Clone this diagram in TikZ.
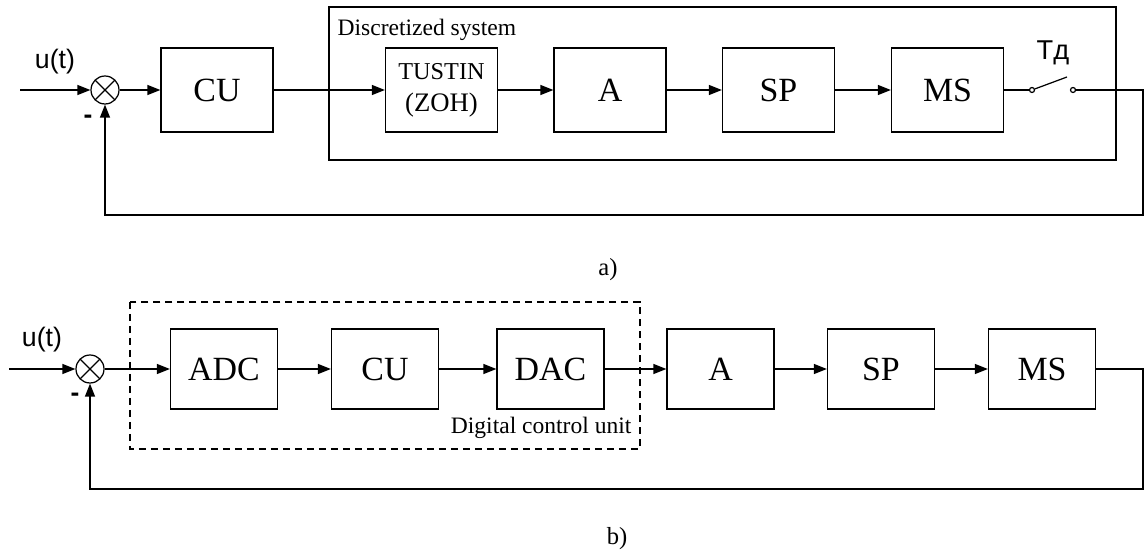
\documentclass[tikz,border=0pt]{standalone}
\usepackage{fontspec}
\setmainfont{Liberation Serif}
\setsansfont{Liberation Sans}
\usetikzlibrary{arrows.meta, calc}

\tikzset{
	blk/.style={draw, minimum width=2.24cm, minimum height=1.68cm, inner sep=0pt, font=\fontsize{19.3}{23}\selectfont},
	blkb/.style={draw, minimum width=2.14cm, minimum height=1.6cm, inner sep=0pt, font=\fontsize{19.3}{23}\selectfont},
	sumnode/.style={circle, draw, minimum size=0.56cm, inner sep=0pt,
		path picture={\draw (path picture bounding box.north west) -- (path picture bounding box.south east)
			(path picture bounding box.north east) -- (path picture bounding box.south west);}},
	arr/.style={-{Triangle[length=0.26cm,width=0.2cm]}},
	contact/.style={circle, draw, fill=white, minimum size=0.1cm, inner sep=0pt},
	sig/.style={font=\sffamily\fontsize{15.2}{18}\selectfont, inner sep=0pt},
	minus/.style={font=\sffamily\bfseries\fontsize{15}{18}\selectfont, inner sep=0pt},
	grp/.style={font=\fontsize{13.4}{16}\selectfont, inner sep=0pt},
	captxt/.style={font=\fontsize{14}{17}\selectfont, inner sep=0pt},
}

\begin{document}
\begin{tikzpicture}[x=0.02cm, y=-0.02cm, line width=0.7pt]
	\useasboundingbox (0,0) rectangle (1144,553);
	%
	% a) discretized system
	%
	\draw (329,7) rectangle (1116,160);
	\node[grp, anchor=west] (dstxt) at (337,30) {Discretized system};
	\coordinate (in1) at (20,90);
	\node[sig] (u1) at (55,62) {u(t)};
	\node[sumnode] (sum1) at (105,90) {};
	\node[minus] (m1) at (88,119) {-};
	\node[blk] (cu1) at (217,90) {CU};
	\node[blk, align=center, font=\fontsize{13.8}{18.2}\selectfont] (tus) at (441.5,90) {TUSTIN\\{\fontsize{15.2}{18.2}\selectfont(ZOH)}};
	\node[blk] (a1) at (610,90) {A};
	\node[blk] (sp1) at (778.5,90) {SP};
	\node[blk] (ms1) at (947.5,90) {MS};
	\node[contact] (sw1) at (1032,90) {};
	\node[contact] (sw2) at (1073,90) {};
	\coordinate (blade) at (1067,77);
	\node[sig, font=\sffamily\fontsize{15.5}{18}\selectfont] (td) at (1053,53) {Тд};
	\coordinate (out1) at (1143,90);
	\coordinate (fb1) at (1143,215);
	%
	\draw[arr] (in1) -- (sum1);
	\draw[arr] (sum1) -- (cu1);
	\draw[arr] (cu1) -- (tus);
	\draw[arr] (tus) -- (a1);
	\draw[arr] (a1) -- (sp1);
	\draw[arr] (sp1) -- (ms1);
	\draw (ms1) -- (sw1);
	\draw (sw1) -- (blade);
	\draw[arr] (sw2) -- (out1) -- (fb1) -| (sum1.south);
	\node[captxt] (capa) at (608,270) {a)};
	%
	% b) digital control unit
	%
	\draw[dash pattern=on 0.15cm off 0.09cm] (130,302) rectangle (640,449);
	\node[grp, anchor=east] (dcu) at (632,428) {Digital control unit};
	\coordinate (in2) at (9,369);
	\node[sig] (u2) at (42,340) {u(t)};
	\node[sumnode] (sum2) at (90,369) {};
	\node[minus] (m2) at (75,397) {-};
	\node[blkb] (adc) at (224,369) {ADC};
	\node[blkb] (cu2) at (385,369) {CU};
	\node[blkb] (dac) at (550.5,369) {DAC};
	\node[blkb] (a2) at (720.5,369) {A};
	\node[blkb] (sp2) at (881,369) {SP};
	\node[blkb] (ms2) at (1042,369) {MS};
	\coordinate (out2) at (1143,369);
	\coordinate (fb2) at (1143,489);
	%
	\draw[arr] (in2) -- (sum2);
	\draw[arr] (sum2) -- (adc);
	\draw[arr] (adc) -- (cu2);
	\draw[arr] (cu2) -- (dac);
	\draw[arr] (dac) -- (a2);
	\draw[arr] (a2) -- (sp2);
	\draw[arr] (sp2) -- (ms2);
	\draw[arr] (ms2) -- (out2) -- (fb2) -| (sum2.south);
	\node[captxt] (capb) at (617,539) {b)};
\end{tikzpicture}
\end{document}
